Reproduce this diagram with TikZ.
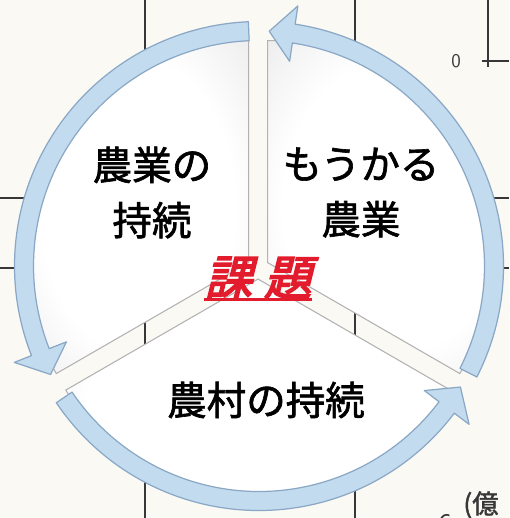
\documentclass[tikz,border=0pt]{standalone}
\usepackage{fontspec}
\usepackage{tikz}
\newfontfamily\jpfont[FakeBold=1.6]{Noto Sans CJK JP}
\newfontfamily\kadaifont[FakeSlant=0.25,FakeBold=3.5]{Noto Sans CJK JP}
\definecolor{ringblue}{RGB}{195,219,238}
\definecolor{ringedge}{RGB}{138,168,198}
\definecolor{kadaired}{RGB}{226,28,44}
\definecolor{papercream}{RGB}{250,249,244}
\definecolor{gridgray}{RGB}{55,55,55}
\pgfdeclareradialshading{pillow}{\pgfpoint{0bp}{0bp}}{color(0bp)=(white); color(22bp)=(white); color(36bp)=(gray!14); color(50bp)=(gray!42)}

\begin{document}
\begin{tikzpicture}[scale=0.02]
\tikzstyle{every node}+=[inner sep=0pt]
\tikzstyle{gridline}=[gridgray, line width=1pt]
\tikzstyle{slice}=[shading=pillow, draw=gray!60, line width=0.6pt]
\tikzstyle{ringarrow}=[fill=ringblue, draw=ringedge, line width=0.7pt, line join=round]
\tikzstyle{jptext}=[font=\jpfont\fontsize{22.5}{31.5}\selectfont, align=center]
\tikzstyle{smalltext}=[font=\jpfont\fontsize{15}{18}\selectfont, gridgray]
\useasboundingbox (0,0) rectangle (509,-518);
\fill [papercream] (0,0) rectangle (509,-518);
% chart lines behind the picture
\draw [gridline] (145,0) -- (145,-518);
\draw [gridline] (355,0) -- (355,-518);
\draw [gridline] (0,-198) -- (30,-198);
\draw [gridline] (0,-268) -- (30,-268);
\draw [gridline] (480,-198) -- (509,-198);
\draw [gridline] (480,-268) -- (509,-268);
\draw [gridline] (488,0) -- (488,-67);
\draw [gridline] (482,-61) -- (509,-61);
\node [smalltext, font=\sffamily\fontsize{11}{13}\selectfont] (zero) at (456,-61) {0};
\node [smalltext, anchor=west] (oku) at (463,-505) {(億};
\node [smalltext, font=\sffamily\fontsize{17}{20}\selectfont] (six) at (445,-525) {6};
% three slices
\coordinate (apexL) at (248.5,-262.5);
\coordinate (apexR) at (267.5,-262.5);
\coordinate (apexB) at (258,-279);
\shade [slice] (apexL) -- ++(90:222) arc [start angle=90, end angle=210, radius=222] -- cycle;
\shade [slice] (apexR) -- ++(-30:222) arc [start angle=-30, end angle=90, radius=222] -- cycle;
\shade [slice] (apexB) -- ++(210:222) arc [start angle=210, end angle=330, radius=222] -- cycle;
% ring of arrows
\begin{scope}[shift={(259,-266)}]
\draw [ringarrow] (-27:244.5) arc [start angle=-27, end angle=81.5, radius=244.5] -- (81.5:263) -- (87.5:235) -- (81.5:207) -- (81.5:225.5) arc [start angle=81.5, end angle=-27, radius=225.5] -- cycle;
\draw [ringarrow] (92.5:244.5) arc [start angle=92.5, end angle=201.5, radius=244.5] -- (201.5:263) -- (207.5:235) -- (201.5:207) -- (201.5:225.5) arc [start angle=201.5, end angle=92.5, radius=225.5] -- cycle;
\draw [ringarrow] (214:244.5) arc [start angle=214, end angle=323, radius=244.5] -- (323:263) -- (329:235) -- (323:207) -- (323:225.5) arc [start angle=323, end angle=214, radius=225.5] -- cycle;
\end{scope}
% texts
\node [jptext] (jizoku) at (152,-192.5) {農業の\\持続};
\node [jptext] (mokaru) at (361,-192.5) {もうかる\\農業};
\node [jptext] (noson) at (266,-400) {農村の持続};
\node [font=\kadaifont\fontsize{27}{30}\selectfont, kadaired] (kadai) at (258,-278) {課\hspace{0.25em}題};
\draw [kadaired, line width=1.4pt] ([xshift=-4pt]kadai.south west) -- (kadai.south east);
\end{tikzpicture}
\end{document}
